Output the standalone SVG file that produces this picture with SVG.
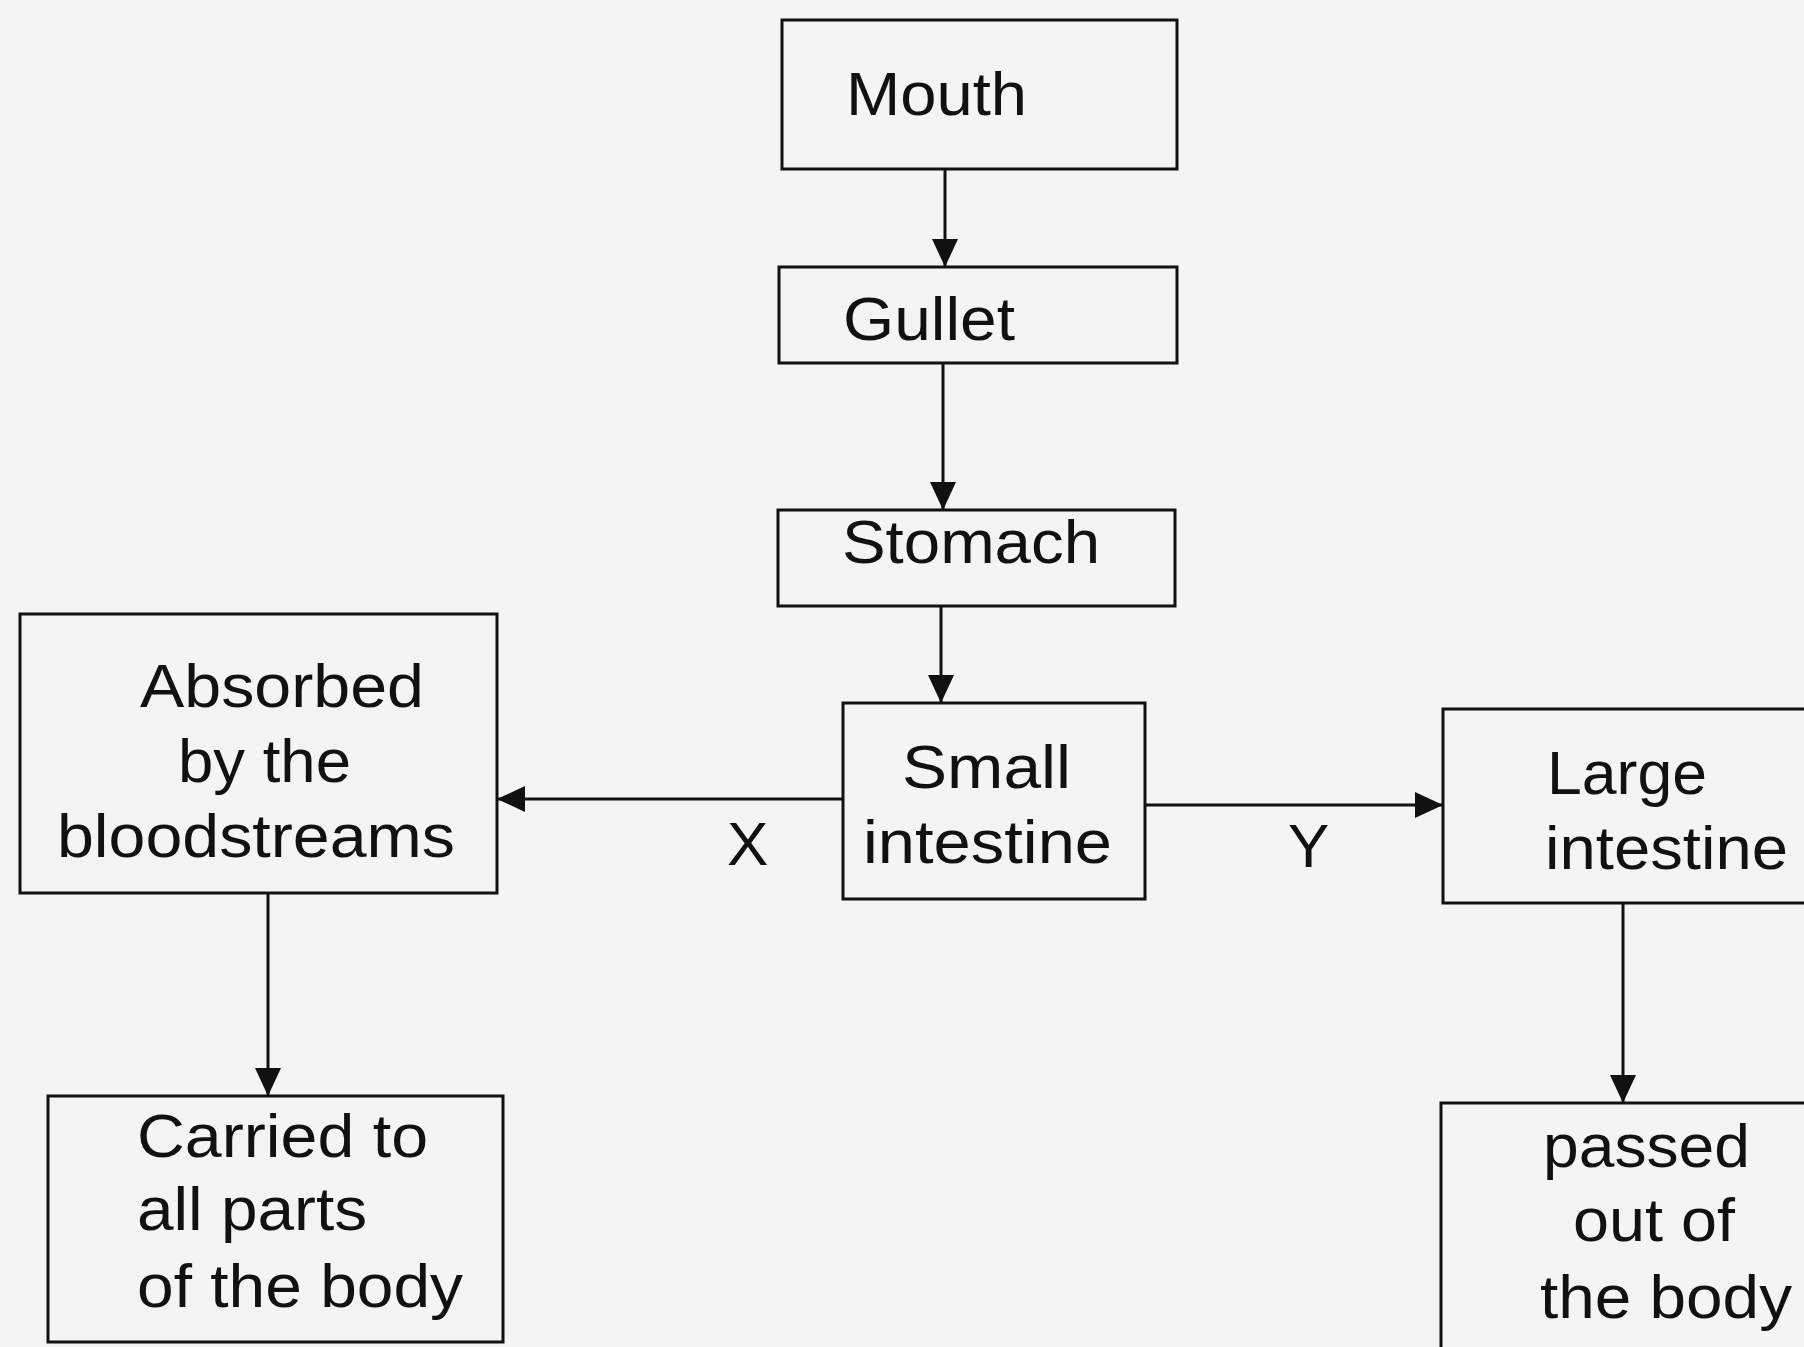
<svg xmlns="http://www.w3.org/2000/svg" width="1804" height="1347" viewBox="0 0 1804 1347">
<style>
.box{fill:none;stroke:#111;stroke-width:3}
.lbl{font-family:"Liberation Sans",Arial,sans-serif;font-size:62px;fill:#111}
.con{stroke:#111;stroke-width:3;fill:none}
</style>
<defs>
<marker id="ah" viewBox="0 0 28 28" refX="28" refY="14" markerWidth="28" markerHeight="28" markerUnits="userSpaceOnUse" orient="auto">
<path d="M0,1 L28,14 L0,27 z" fill="#111"/>
</marker>
</defs>
<rect width="1804" height="1347" fill="#f4f4f4"/>
<g id="connectors">
<line class="con" x1="945" y1="169" x2="945" y2="267" marker-end="url(#ah)"/>
<line class="con" x1="943" y1="363" x2="943" y2="510" marker-end="url(#ah)"/>
<line class="con" x1="941" y1="606" x2="941" y2="703" marker-end="url(#ah)"/>
<line class="con" x1="843" y1="799" x2="497" y2="799" marker-end="url(#ah)"/>
<line class="con" x1="1145" y1="805" x2="1443" y2="805" marker-end="url(#ah)"/>
<line class="con" x1="268" y1="893" x2="268" y2="1096" marker-end="url(#ah)"/>
<line class="con" x1="1623" y1="903" x2="1623" y2="1103" marker-end="url(#ah)"/>
<text class="lbl" x="727" y="865">X</text>
<text class="lbl" x="1288" y="867">Y</text>
</g>
<g id="mouth">
<rect class="box" x="782" y="20" width="395" height="149"/>
<text class="lbl" x="846" y="115" textLength="181" lengthAdjust="spacingAndGlyphs">Mouth</text>
</g>
<g id="gullet">
<rect class="box" x="779" y="267" width="398" height="96"/>
<text class="lbl" x="843" y="340" textLength="172" lengthAdjust="spacingAndGlyphs">Gullet</text>
</g>
<g id="stomach">
<rect class="box" x="778" y="510" width="397" height="96"/>
<text class="lbl" x="842" y="563" textLength="258" lengthAdjust="spacingAndGlyphs">Stomach</text>
</g>
<g id="small-intestine">
<rect class="box" x="843" y="703" width="302" height="196"/>
<text class="lbl" x="902" y="788" textLength="169" lengthAdjust="spacingAndGlyphs">Small</text>
<text class="lbl" x="863" y="863" textLength="249" lengthAdjust="spacingAndGlyphs">intestine</text>
</g>
<g id="absorbed">
<rect class="box" x="20" y="614" width="477" height="279"/>
<text class="lbl" x="140" y="707" textLength="284" lengthAdjust="spacingAndGlyphs">Absorbed</text>
<text class="lbl" x="178" y="782" textLength="173" lengthAdjust="spacingAndGlyphs">by the</text>
<text class="lbl" x="57" y="857" textLength="398" lengthAdjust="spacingAndGlyphs">bloodstreams</text>
</g>
<g id="carried">
<rect class="box" x="48" y="1096" width="455" height="246"/>
<text class="lbl" x="137" y="1157" textLength="291" lengthAdjust="spacingAndGlyphs">Carried to</text>
<text class="lbl" x="137" y="1230" textLength="230" lengthAdjust="spacingAndGlyphs">all parts</text>
<text class="lbl" x="137" y="1307" textLength="326" lengthAdjust="spacingAndGlyphs">of the body</text>
</g>
<g id="large-intestine">
<rect class="box" x="1443" y="709" width="380" height="194"/>
<text class="lbl" x="1547" y="794" textLength="160" lengthAdjust="spacingAndGlyphs">Large</text>
<text class="lbl" x="1545" y="869" textLength="243" lengthAdjust="spacingAndGlyphs">intestine</text>
</g>
<g id="passed">
<rect class="box" x="1441" y="1103" width="380" height="260"/>
<text class="lbl" x="1543" y="1167" textLength="207" lengthAdjust="spacingAndGlyphs">passed</text>
<text class="lbl" x="1573" y="1241" textLength="162" lengthAdjust="spacingAndGlyphs">out of</text>
<text class="lbl" x="1540" y="1318" textLength="252" lengthAdjust="spacingAndGlyphs">the body</text>
</g>
</svg>
